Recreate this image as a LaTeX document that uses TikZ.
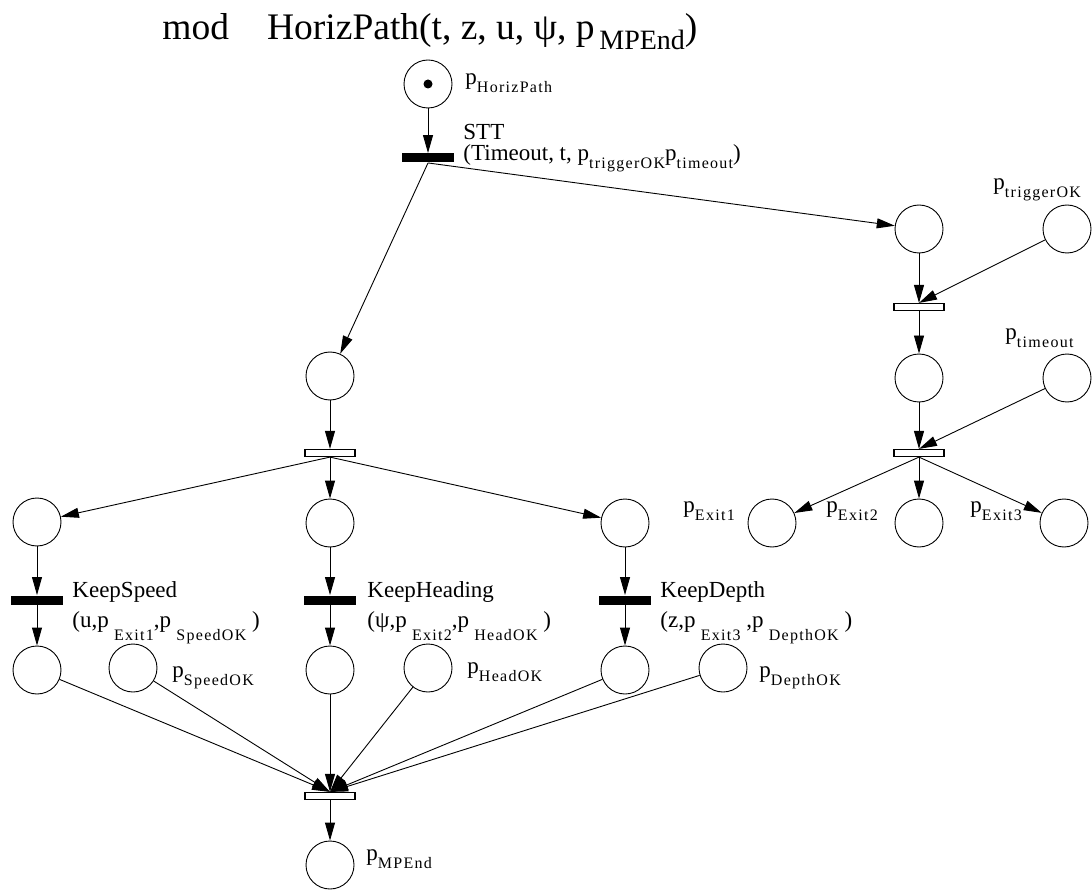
\documentclass[tikz,border=0pt]{standalone}
\usepackage{fontspec}
\setmainfont{Liberation Serif}
\newfontfamily\subfam[LetterSpace=8]{Liberation Serif}
\usetikzlibrary{arrows.meta}
\newcommand{\lbl}{\fontsize{23}{26}\selectfont}
\newcommand{\subtxt}[2][8pt]{\raisebox{-#1}{\subfam\fontsize{16}{18}\selectfont #2}}
\begin{document}
\begin{tikzpicture}[x=1pt,y=-1pt,>={Triangle[length=18pt,width=10pt]},line width=0.9pt,
place/.style={circle,draw,minimum size=48pt,inner sep=0pt},
otrans/.style={rectangle,draw,fill=white,minimum width=50pt,minimum height=7pt,inner sep=0pt,line width=1.2pt},
btrans/.style={rectangle,fill=black,minimum width=52pt,minimum height=9pt,inner sep=0pt},
txt/.style={anchor=base west,inner sep=0pt,font=\lbl}]
\useasboundingbox (0,0) rectangle (1092,890);
\node[anchor=base west,inner sep=0pt,font=\fontsize{37.5}{42}\selectfont] (title) at (162,40)
  {mod\hspace{38pt}HorizPath(t, z, u, ψ, p\raisebox{-10pt}{\fontsize{28}{32}\selectfont\,MPEnd})};
\begin{scope}
\node[place] (pH) at (428,84) {};
\node[circle,fill,inner sep=0pt,minimum size=9pt] (tok) at (pH) {};
\node[btrans] (STT) at (428,158) {};
\node[place] (A1) at (919,229) {};
\node[place] (pTOK) at (1067,229) {};
\node[otrans] (T2) at (919,307) {};
\node[place] (A2) at (919,378) {};
\node[place] (pTO) at (1067,378) {};
\node[otrans] (T3) at (919,453) {};
\node[place] (E1) at (772,523) {};
\node[place] (E2) at (919,523) {};
\node[place] (E3) at (1064,523) {};
\node[place] (L1) at (330,376) {};
\node[otrans] (T4) at (330,453) {};
\node[place] (K1) at (37,522) {};
\node[place] (K2) at (330,523) {};
\node[place] (K3) at (625,523) {};
\node[btrans] (KS) at (37,600) {};
\node[btrans] (KH) at (330,600) {};
\node[btrans] (KD) at (625,600) {};
\node[place] (S1) at (37,670) {};
\node[place] (SOK) at (133,668) {};
\node[place] (H1) at (330,670) {};
\node[place] (HOK) at (428,668) {};
\node[place] (D1) at (625,670) {};
\node[place] (DOK) at (723,668) {};
\node[otrans] (Tf) at (330,796) {};
\node[place] (pMP) at (330,865) {};
\end{scope}
\begin{scope}[every node/.style={txt}]
\node (lpH) at (465,85) {p\subtxt{HorizPath}};
\node (lSTT) at (463,140) {STT};
\node (lSTTa) at (463,161) {(Timeout, t, p\subtxt{triggerOK}p\subtxt{timeout})};
\node (lTOK) at (993,190) {p\subtxt{triggerOK}};
\node (lTO) at (1005,340) {p\subtxt{timeout}};
\node (lE1) at (683,512) {p\subtxt{Exit1}};
\node (lE2) at (826,512) {p\subtxt{Exit2}};
\node (lE3) at (970,512) {p\subtxt{Exit3}};
\node (lKS) at (72,597) {KeepSpeed};
\node (lKSa) at (72,627) {(u,p\subtxt[13pt]{ Exit1},p\subtxt[13pt]{ SpeedOK} )};
\node (lKH) at (367,597) {KeepHeading};
\node (lKHa) at (367,627) {(ψ,p\subtxt[13pt]{ Exit2},p\subtxt[13pt]{ HeadOK} )};
\node (lKD) at (660,597) {KeepDepth};
\node (lKDa) at (660,627) {(z,p\subtxt[13pt]{ Exit3} ,p\subtxt[13pt]{ DepthOK} )};
\node (lSOK) at (172,677) {p\subtxt{SpeedOK}};
\node (lHOK) at (467,673) {p\subtxt{HeadOK}};
\node (lDOK) at (759,677) {p\subtxt{DepthOK}};
\node (lMP) at (366,860) {p\subtxt{MPEnd}};
\end{scope}
\begin{scope}[every edge/.append style={->}]
\draw (pH) edge (STT.north);
\draw (STT.south) edge (A1);
\draw (STT.south) edge (L1);
\draw (A1) edge (T2.north);
\draw (pTOK) edge (T2.north);
\draw (T2) edge (A2);
\draw (A2) edge (T3.north);
\draw (pTO) edge (T3.north);
\draw (T3.south) edge (E1);
\draw (T3.south) edge (E2);
\draw (T3.south) edge (E3);
\draw (L1) edge (T4.north);
\draw (T4.south) edge (K1);
\draw (T4.south) edge (K2);
\draw (T4.south) edge (K3);
\draw (K1) edge (KS.north);
\draw (K2) edge (KH.north);
\draw (K3) edge (KD.north);
\draw (KS) edge (S1);
\draw (KH) edge (H1);
\draw (KD) edge (D1);
\draw (S1) edge (Tf.north);
\draw (SOK) edge (Tf.north);
\draw (H1) edge (Tf.north);
\draw (HOK) edge (Tf.north);
\draw (D1) edge (Tf.north);
\draw (DOK) edge (Tf.north);
\draw (Tf) edge (pMP);
\end{scope}
\end{tikzpicture}
\end{document}
